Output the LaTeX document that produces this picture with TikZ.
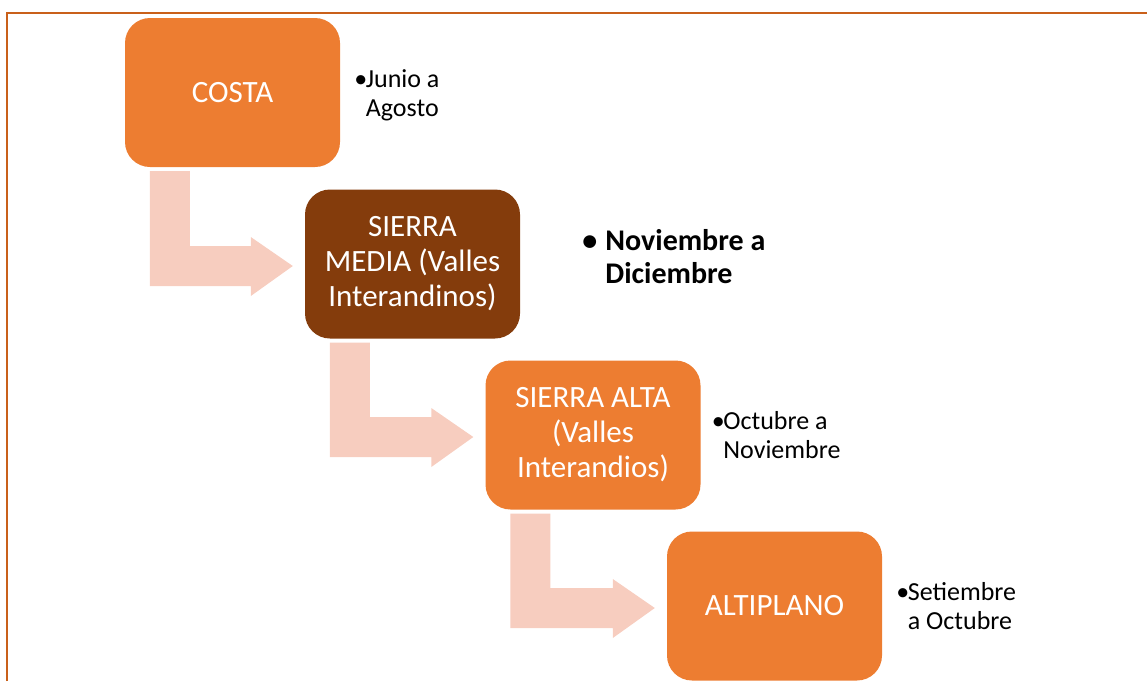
\documentclass[tikz,border=0pt]{standalone}
\usepackage{fontspec}
\setmainfont{Carlito}
\usetikzlibrary{calc,positioning}

\definecolor{boxorange}{HTML}{ED7D31}
\definecolor{boxbrown}{HTML}{843C0C}
\definecolor{arrowpeach}{HTML}{F7CDBF}
\definecolor{frameorange}{HTML}{C9601A}

% bent block arrow from under one stage box to the left of the next
\newcommand{\bentarrow}[2]{%
  \fill[arrowpeach] ($(#1.south west)+(25,4)$) -- ($(#1.south west)+(65,4)$)
    |- ($(#2.west)+(-54,-18)$) -- ($(#2.west)+(-54,-27)$)
    -- ($(#2.west)+(-12,2)$) -- ($(#2.west)+(-54,32)$)
    -- ($(#2.west)+(-54,22)$) -| ($(#1.south west)+(25,4)$) -- cycle;}

\begin{document}
\begin{tikzpicture}[x=1pt,y=-1pt,
    stage/.style={rectangle, rounded corners=25pt, fill=boxorange, text=white,
      minimum width=215pt, minimum height=149pt, inner sep=0pt, align=center,
      font=\fontsize{31}{35}\selectfont},
    note/.style={inner sep=0pt, anchor=west, yshift=-3.5pt, font=\fontsize{26}{29}\selectfont}]
  \useasboundingbox (0,0) rectangle (1147,681);

  \draw[frameorange, line width=2pt] (6.5,681) -- (6.5,12.5) -- (1147,12.5);

  \node[stage] (costa) at (232.5,92.5) {COSTA};
  \node[stage, fill=boxbrown] (media) at (412.5,264) {SIERRA\\MEDIA (Valles\\Interandinos)};
  \node[stage] (alta) at (593,435) {SIERRA ALTA\\(Valles\\Interandios)};
  \node[stage] (altiplano) at (774.5,606) {ALTIPLANO};

  \bentarrow{costa}{media}
  \bentarrow{media}{alta}
  \bentarrow{alta}{altiplano}

  \node[note, right=14pt of costa] (costanote)
    {\textbullet\hspace{-1.5pt}\begin{tabular}[t]{@{}l@{}}Junio a\\Agosto\end{tabular}};
  \node[note, right=62pt of media, yshift=7pt, font=\fontsize{30}{33}\selectfont\bfseries] (medianote)
    {\textbullet\hspace{8pt}\begin{tabular}[t]{@{}l@{}}Noviembre a\\Diciembre\end{tabular}};
  \node[note, right=11pt of alta] (altanote)
    {\textbullet\hspace{-1.5pt}\begin{tabular}[t]{@{}l@{}}Octubre a\\Noviembre\end{tabular}};
  \node[note, right=14pt of altiplano] (altiplanonote)
    {\textbullet\hspace{-1.5pt}\begin{tabular}[t]{@{}l@{}}Setiembre\\a Octubre\end{tabular}};
\end{tikzpicture}
\end{document}
